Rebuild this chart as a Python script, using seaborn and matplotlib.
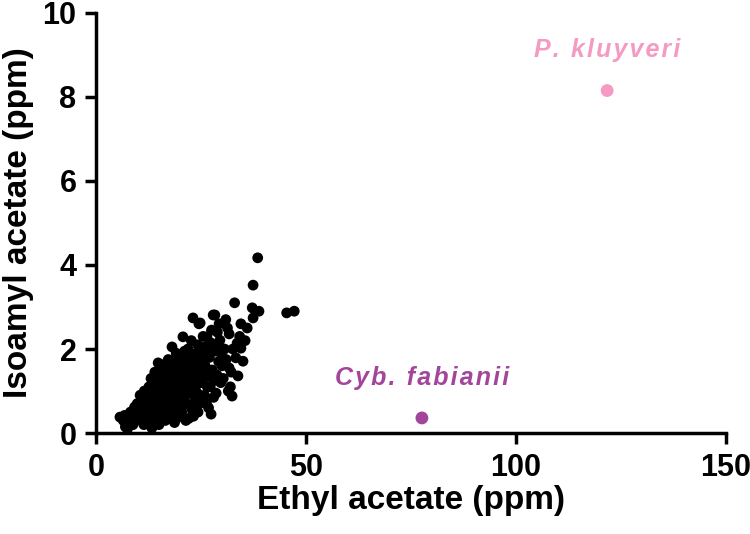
import numpy as np
import pandas as pd
import seaborn as sns
import matplotlib.pyplot as plt

# Ethyl acetate (ppm) / isoamyl acetate (ppm) of the strain collection
ethyl = [
    5.7, 6.5, 7.4, 7.0, 8.0, 8.5, 9.0, 9.5, 8.8, 9.8, 7.5, 10.0, 9.2, 6.8, 8.2,
    10.5, 10.8, 11.0, 11.2, 11.5, 11.8, 12.0, 12.2, 12.4, 12.6, 12.8, 13.0, 13.2, 13.3, 13.5,
    13.6, 13.8, 14.0, 14.1, 14.3, 14.5, 14.6, 14.8, 14.9, 15.0, 10.2, 10.6, 11.4, 11.6, 12.1,
    12.9, 13.4, 13.9, 14.2, 14.7, 11.0, 12.5, 13.1, 14.4, 10.9, 12.3, 13.7, 14.0, 11.9, 13.0,
    15.2, 15.4, 15.5, 15.6, 15.8, 16.0, 16.2, 16.4, 16.5, 16.6, 16.8, 17.0, 17.1, 17.3, 17.5,
    17.6, 17.8, 18.0, 18.1, 18.3, 18.5, 18.6, 18.8, 19.0, 19.2, 19.3, 19.5, 19.6, 19.8, 20.0,
    15.3, 15.9, 16.3, 16.7, 17.2, 17.7, 18.2, 18.7, 19.1, 19.7, 15.1, 16.1, 17.4, 18.4, 19.4,
    15.7, 16.9, 18.9, 17.9, 19.9,
    20.2, 20.4, 20.7, 20.8, 21.0, 21.2, 21.4, 21.6, 21.9, 22.0, 22.2, 22.4, 22.6, 22.8, 23.1,
    23.2, 23.4, 23.6, 23.8, 24.0, 24.2, 24.5, 24.6, 24.8, 24.9, 25.0, 20.5, 21.1, 21.7, 22.3,
    22.9, 23.5, 24.1, 24.7, 20.9, 21.8, 22.7, 23.3, 24.4, 20.1, 22.1, 23.9, 24.3, 21.5, 22.5,
    20.6,
    25.3, 25.5, 25.8, 26.0, 26.2, 26.4, 26.6, 26.8, 27.0, 27.2, 27.5, 27.7, 27.9, 28.0, 28.3,
    28.5, 28.8, 29.0, 29.2, 29.5, 29.7, 30.0, 25.6, 26.3, 27.3, 28.1, 29.3, 25.1, 26.9, 28.6,
    29.8, 27.4, 25.9, 28.9, 26.5,
    30.3, 30.6, 31.0, 31.3, 31.7, 31.7, 32.0, 32.4, 32.6, 33.0, 33.3, 33.6, 33.8, 34.2, 34.5,
    34.5, 35.0, 35.5, 36.0, 37.2, 37.4, 37.4, 38.5, 38.8, 30.9, 32.2, 31.5,
    45.4, 47.2,
]
isoamyl = [
    0.38, 0.30, 0.24, 0.15, 0.40, 0.35, 0.55, 0.30, 0.20, 0.70, 0.10, 0.45, 0.62, 0.42, 0.50,
    0.90, 0.60, 0.35, 0.75, 1.00, 0.50, 0.85, 0.25, 0.65, 1.10, 0.40, 0.80, 0.55, 0.12, 1.20,
    0.95, 0.30, 0.70, 1.05, 0.45, 1.33, 0.85, 1.67, 0.60, 0.20, 0.55, 0.75, 0.20, 0.62, 1.00,
    0.95, 0.68, 1.10, 0.90, 0.35, 0.90, 0.80, 1.30, 1.20, 0.40, 0.50, 0.50, 1.45, 0.72, 1.05,
    0.95, 0.55, 1.25, 0.80, 0.40, 1.10, 0.70, 1.64, 0.30, 0.90, 1.35, 0.60, 1.05, 0.85, 1.50,
    0.45, 1.20, 0.75, 2.05, 1.00, 0.55, 1.40, 0.90, 1.15, 0.35, 1.70, 0.80, 1.30, 0.60, 1.00,
    1.45, 0.65, 1.20, 0.50, 1.75, 0.95, 1.60, 0.25, 1.90, 1.50, 0.75, 0.85, 0.35, 1.25, 1.05,
    1.00, 1.10, 0.70, 0.50, 1.25,
    1.80, 0.50, 2.29, 1.10, 0.80, 1.45, 0.30, 1.25, 2.00, 0.95, 1.60, 0.65, 1.35, 1.05, 2.74,
    0.40, 1.70, 0.85, 1.50, 1.15, 2.10, 2.60, 0.70, 2.62, 1.30, 1.90, 1.30, 1.95, 0.70, 1.85,
    0.55, 1.25, 0.95, 1.65, 1.55, 1.10, 2.20, 1.00, 1.45, 0.75, 0.35, 1.90, 0.50, 1.75, 1.20,
    1.00,
    1.20, 2.30, 0.90, 1.60, 2.00, 2.29, 1.35, 0.60, 1.80, 1.10, 2.45, 1.50, 2.81, 0.85, 2.81,
    1.95, 1.38, 2.10, 1.70, 2.21, 1.20, 1.60, 1.75, 0.70, 2.15, 1.25, 2.60, 1.50, 1.95, 0.95,
    1.90, 0.45, 2.05, 2.40, 1.10,
    1.30, 2.00, 1.75, 2.50, 2.36, 1.55, 1.10, 0.88, 2.00, 3.10, 1.79, 2.14, 1.36, 2.30, 2.60,
    2.02, 1.71, 2.20, 2.50, 2.98, 3.52, 2.74, 4.17, 2.90, 2.70, 1.45, 1.00,
    2.86, 2.90,
]

# the two highlighted non-conventional yeasts
species = ["P. kluyveri", "Cyb. fabianii"]
species_ethyl = [121.7, 77.6]
species_isoamyl = [8.15, 0.36]
species_colors = ["#f49ac3", "#a3469b"]

df = pd.DataFrame({"ethyl": ethyl, "isoamyl": isoamyl})
sp_df = pd.DataFrame({"ethyl": species_ethyl, "isoamyl": species_isoamyl, "name": species})

sns.set_style("ticks")
plt.rcParams["font.family"] = ["Liberation Sans", "DejaVu Sans"]
plt.rcParams["font.weight"] = "bold"
plt.rcParams["text.color"] = "black"
plt.rcParams["axes.labelcolor"] = "black"
plt.rcParams["xtick.color"] = "black"
plt.rcParams["ytick.color"] = "black"

fig = plt.figure(figsize=(7.5, 5.34), dpi=100)
ax = fig.add_axes([0.128, 0.189, 0.84, 0.787])
sns.scatterplot(data=df, x="ethyl", y="isoamyl", color="black",
                s=60, edgecolor="none", linewidth=0, ax=ax, zorder=3)
sns.scatterplot(data=sp_df, x="ethyl", y="isoamyl", hue="name", palette=species_colors,
                s=85, edgecolor="none", linewidth=0, legend=False, ax=ax, zorder=3)

# letter-spaced italic labels like the original
for name, x, y, c in zip(species, species_ethyl, species_isoamyl, species_colors):
    ax.annotate("\u200a".join(name), (x, y), xytext=(0, 29), textcoords="offset points",
                ha="center", va="center", color=c, fontsize=18, fontstyle="italic",
                fontweight="bold")

ax.set_xlim(0, 150)
ax.set_ylim(0, 10)
ax.set_xticks([0, 50, 100, 150])
ax.set_yticks([0, 2, 4, 6, 8, 10])
ax.set_xlabel("Ethyl acetate (ppm)", fontsize=24, fontweight="bold", labelpad=2)
ax.set_ylabel("Isoamyl acetate (ppm)", fontsize=24, fontweight="bold", labelpad=6)
ax.tick_params(labelsize=22, width=2.5, length=8, pad=6)
for lab in ax.get_xticklabels() + ax.get_yticklabels():
    lab.set_fontweight("bold")
sns.despine(ax=ax)
for sp in ["left", "bottom"]:
    ax.spines[sp].set_linewidth(2.5)
    ax.spines[sp].set_color("black")
    ax.spines[sp].set_capstyle("projecting")

fig.savefig("out.png", dpi=100)
